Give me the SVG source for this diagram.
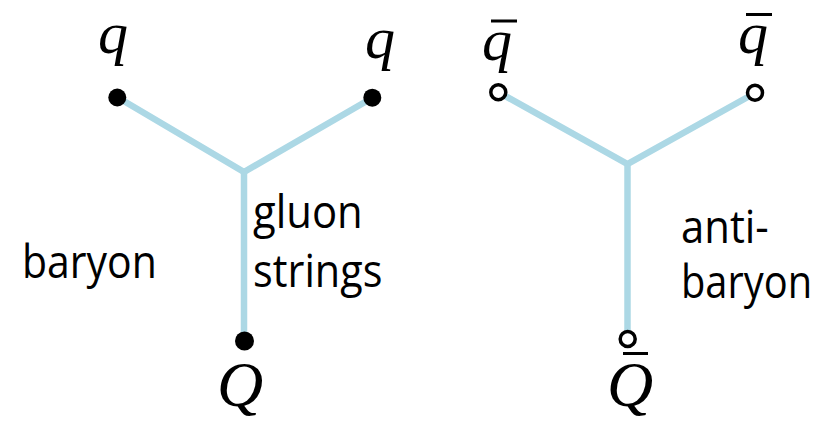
<svg xmlns="http://www.w3.org/2000/svg" width="820" height="422" viewBox="0 0 820 422">
<style>
.str{stroke:#acd8e5;stroke-width:6.5;fill:none;stroke-linecap:butt}
.qf{fill:#000}
.qo{fill:#fff;stroke:#000;stroke-width:3.5}
.m{font-family:"Liberation Serif","Times New Roman",serif;font-style:italic;fill:#000;text-anchor:middle}
.lab{font-family:"Open Sans","Noto Sans",sans-serif;font-size:45px;fill:#000}
.bar{stroke:#000;stroke-width:3}
</style>
<rect width="820" height="422" fill="#fff"/>
<g id="connectors">
<polyline class="str" points="117,97 244,172 372,98"/>
<line class="str" x1="244" y1="172" x2="244" y2="341"/>
<polyline class="str" points="498,92 627.5,164 755,93"/>
<line class="str" x1="627.5" y1="164" x2="627.5" y2="339"/>
</g>
<g id="baryon">
<g id="q1"><circle class="qf" cx="117.3" cy="97.5" r="9"/><text class="m" x="113" y="53" font-size="60">q</text></g>
<g id="q2"><circle class="qf" cx="372.3" cy="97.7" r="9"/><text class="m" x="380" y="58" font-size="60">q</text></g>
<g id="Q"><circle class="qf" cx="244.5" cy="341" r="9.5"/><text class="m" x="240" y="406" font-size="64">Q</text></g>
<text class="lab" transform="translate(22,278) scale(0.91,1)">baryon</text>
<text class="lab" transform="translate(253,228) scale(0.93,1)">gluon</text>
<text class="lab" transform="translate(253,287) scale(0.92,1)">strings</text>
</g>
<g id="antibaryon">
<g id="qb1"><circle class="qo" cx="498.3" cy="92.3" r="7.5"/><line class="bar" x1="491" y1="21" x2="517" y2="21"/><text class="m" x="497" y="60" font-size="60">q</text></g>
<g id="qb2"><circle class="qo" cx="755" cy="92.7" r="7.5"/><line class="bar" x1="746" y1="14.5" x2="772" y2="14.5"/><text class="m" x="753" y="53" font-size="60">q</text></g>
<g id="Qb"><circle class="qo" cx="627.7" cy="339" r="7.5"/><line class="bar" x1="623" y1="353.5" x2="648" y2="353.5"/><text class="m" x="630" y="406" font-size="64">Q</text></g>
<text class="lab" transform="translate(681,243) scale(0.93,1)">anti-</text>
<text class="lab" transform="translate(681,298) scale(0.885,1)">baryon</text>
</g>
</svg>
